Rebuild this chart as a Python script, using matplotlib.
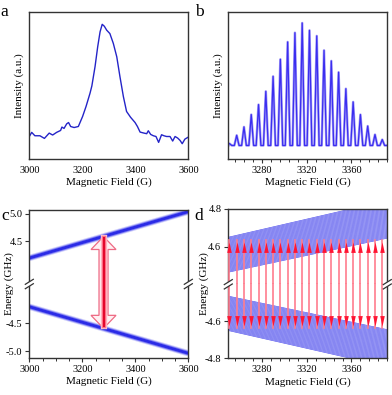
import numpy as np
import matplotlib
matplotlib.use("Agg")
import matplotlib.pyplot as plt
from matplotlib.patches import Polygon
from matplotlib.lines import Line2D
from matplotlib.path import Path
from matplotlib.ticker import MultipleLocator

plt.rcParams["font.family"] = "serif"
plt.rcParams["font.serif"] = ["Liberation Serif", "DejaVu Serif"]
plt.rcParams["axes.unicode_minus"] = False

# --- panel a: broad EPR line ---
a_field = [3000, 3009, 3021, 3040, 3057, 3075, 3088, 3103, 3118, 3123, 3131, 3141,
           3148, 3156, 3169, 3185, 3201, 3214, 3229, 3236, 3248, 3258, 3267, 3275,
           3283, 3292, 3304, 3317, 3330, 3342, 3355, 3367, 3382, 3399, 3408, 3418,
           3433, 3443, 3449, 3458, 3468, 3478, 3488, 3499, 3508, 3518, 3531, 3541,
           3550, 3560, 3569, 3577, 3587, 3600]
a_int = [0.153, 0.181, 0.158, 0.158, 0.140, 0.176, 0.163, 0.181, 0.194, 0.217, 0.208, 0.239,
         0.248, 0.221, 0.214, 0.221, 0.289, 0.357, 0.447, 0.497, 0.628, 0.763, 0.865, 0.916,
         0.903, 0.876, 0.853, 0.786, 0.695, 0.560, 0.424, 0.323, 0.284, 0.248, 0.221, 0.183,
         0.176, 0.172, 0.192, 0.167, 0.158, 0.153, 0.113, 0.165, 0.158, 0.153, 0.153, 0.122,
         0.153, 0.142, 0.126, 0.104, 0.135, 0.149]

# --- panel b: hyperfine resolved spectrum ---
b_peak_field = [3251.0, 3257.5, 3264.0, 3270.5, 3277.0, 3283.5, 3290.0, 3296.5, 3303.0,
                3309.5, 3316.0, 3322.5, 3329.0, 3335.5, 3342.0, 3348.5, 3355.0, 3361.5,
                3368.0, 3374.5, 3381.0, 3387.5]
b_peak_height = [0.105, 0.161, 0.218, 0.302, 0.370, 0.460, 0.562, 0.678, 0.796, 0.859,
                 0.925, 0.875, 0.837, 0.739, 0.667, 0.590, 0.478, 0.388, 0.302, 0.224,
                 0.166, 0.132]
b_baseline = 0.092
b_half_base = 2.1          # half width of a line at its foot (G)
b_xlim = (3250, 3392)

# --- panel c: Zeeman levels ---
c_field = [3000, 3600]
c_upper = [4.20, 5.04]
c_lower = [-4.20, -5.04]
c_arrow_field = 3280
c_arrow_energy = 4.59

# --- panel d: hyperfine manifolds and transitions ---
d_field = [3250, 3392]
d_band_left = [4.464, 4.650]     # bottom / top edge of upper manifold at left
d_band_right = [4.645, 4.845]
d_n_levels = 40
d_transitions = b_peak_field
d_arrow_energy = 4.625

spine_col = "#333333"
blue = "#2424c8"


def style(ax, labelsize=7.5):
    for s in ax.spines.values():
        s.set_linewidth(1.0)
        s.set_color(spine_col)
    ax.tick_params(direction="out", length=3, width=0.8, labelsize=labelsize,
                   color=spine_col, pad=2)
    ax.tick_params(which="minor", direction="out", length=2, width=0.7, color=spine_col)


def break_marks(fig, ax_bottom, xs):
    # small "//" marks on the spines where the axis is broken
    bb = ax_bottom.get_position()
    yj = bb.y1
    dx, dy, gap = 4 / 392, 2.5 / 395, 2.2 / 395
    for x in xs:
        fig.patches.append(Polygon([[x - dx, yj - gap - dy], [x + dx, yj - gap + dy],
                                    [x + dx, yj + gap + dy], [x - dx, yj + gap - dy]],
                                   closed=True, transform=fig.transFigure,
                                   facecolor="white", edgecolor="none", zorder=5))
        for off in (-gap, gap):
            fig.lines.append(Line2D([x - dx, x + dx], [yj + off - dy, yj + off + dy],
                                    transform=fig.transFigure, color=spine_col,
                                    lw=0.9, zorder=6))


fig = plt.figure(figsize=(3.92, 3.95), dpi=100)

# ---------------- a ----------------
ax_a = fig.add_axes([0.0748, 0.5975, 0.4056, 0.3722])
style(ax_a)
ax_a.plot(a_field, a_int, color=blue, lw=1.0)
ax_a.set_xlim(3000, 3600)
ax_a.set_ylim(0, 1)
ax_a.set_xticks([3000, 3200, 3400, 3600])
ax_a.set_yticks([])
ax_a.tick_params(axis="x", length=0, pad=5)
ax_a.set_xlabel("Magnetic Field (G)", fontsize=8, labelpad=2)
ax_a.set_ylabel("Intensity (a.u.)", fontsize=8, labelpad=4)

# ---------------- b ----------------
bx, by = [b_xlim[0]], [b_baseline]
for p, h in zip(b_peak_field, b_peak_height):
    bx += [p - b_half_base, p, p + b_half_base]
    by += [b_baseline, h, b_baseline]
bx.append(b_xlim[1])
by.append(b_baseline)

ax_b = fig.add_axes([0.5824, 0.5975, 0.4056, 0.3722])
style(ax_b)
ax_b.plot(bx, by, color="#a8a0f7", lw=1.8)
ax_b.plot(bx, by, color="#3b2ef0", lw=0.9)
ax_b.set_xlim(*b_xlim)
ax_b.set_ylim(0, 1)
ax_b.set_xticks([3280, 3320, 3360])
ax_b.xaxis.set_minor_locator(MultipleLocator(8))
ax_b.set_yticks([])
ax_b.set_xlabel("Magnetic Field (G)", fontsize=8, labelpad=2)
ax_b.set_ylabel("Intensity (a.u.)", fontsize=8, labelpad=4)

# ---------------- c ----------------
ax_ct = fig.add_axes([0.0748, 0.281, 0.4056, 0.1874])
ax_cb = fig.add_axes([0.0748, 0.0944, 0.4056, 0.1866])
for ax in (ax_ct, ax_cb):
    style(ax)
    ax.set_xlim(3000, 3600)
    for lw, col in ((4.6, "#cfcffb"), (3.3, "#7c7cf2"), (2.0, "#2b2be6")):
        ax.plot(c_field, c_upper, color=col, lw=lw, solid_capstyle="butt")
        ax.plot(c_field, c_lower, color=col, lw=lw, solid_capstyle="butt")
ax_ct.set_ylim(3.73, 5.07)
ax_cb.set_ylim(-5.12, -3.79)
ax_ct.set_yticks([4.5, 5.0])
ax_ct.set_yticklabels(["4.5", "5.0"])
ax_cb.set_yticks([-5.0, -4.5])
ax_cb.set_yticklabels(["-5.0", "-4.5"])
ax_ct.spines["bottom"].set_visible(False)
ax_cb.spines["top"].set_visible(False)
ax_ct.set_xticks([])
ax_cb.set_xticks([3000, 3200, 3400, 3600])
ax_cb.xaxis.set_minor_locator(MultipleLocator(50))
ax_cb.set_xlabel("Magnetic Field (G)", fontsize=8, labelpad=2)
fig.text(0.024, 0.281, "Energy (GHz)", rotation=90, ha="center", va="center", fontsize=8)
bb = ax_cb.get_position()
break_marks(fig, ax_cb, [bb.x0, bb.x1])

# big double arrow across the break
p_top = ax_ct.transData.transform((c_arrow_field, c_arrow_energy))
p_bot = ax_cb.transData.transform((c_arrow_field, -c_arrow_energy))
cx, y1, y0 = p_top[0], p_top[1], p_bot[1]
sw, hw, hl = 4.5, 12.5, 13.0
pts = [(cx, y1), (cx + hw, y1 - hl), (cx + sw, y1 - hl), (cx + sw, y0 + hl),
       (cx + hw, y0 + hl), (cx, y0), (cx - hw, y0 + hl), (cx - sw, y0 + hl),
       (cx - sw, y1 - hl), (cx - hw, y1 - hl)]
inv = fig.transFigure.inverted()
pts_fig = inv.transform(pts)
fig.patches.append(Polygon(pts_fig, closed=True, transform=fig.transFigure,
                           facecolor="#fff0f2", edgecolor="#ee6a84", lw=0.9, zorder=3))
core = inv.transform([(cx, y1 - 2), (cx, y0 + 2)])
for lw, col in ((4.6, "#ffc4cd"), (3.2, "#ff7a90"), (1.6, "#e4072c")):
    fig.lines.append(Line2D(core[:, 0], core[:, 1], transform=fig.transFigure,
                            color=col, lw=lw, zorder=4))

# ---------------- d ----------------
ax_dt = fig.add_axes([0.5824, 0.2803, 0.4056, 0.1906])
ax_db = fig.add_axes([0.5824, 0.0929, 0.4056, 0.1874])
frac = np.linspace(0, 1, d_n_levels)
for f in frac:
    el = d_band_left[0] + f * (d_band_left[1] - d_band_left[0])
    er = d_band_right[0] + f * (d_band_right[1] - d_band_right[0])
    ax_dt.plot(d_field, [el, er], color="#4646ec", lw=0.45)
    ax_db.plot(d_field, [-el, -er], color="#4646ec", lw=0.45)

head_up = Path([(0, 0), (0.22, -1), (-0.22, -1), (0, 0)])
head_dn = Path([(0, 0), (0.22, 1), (-0.22, 1), (0, 0)])
for x in d_transitions:
    ax_dt.plot([x, x], [4.40, d_arrow_energy + 0.01], color="#ff7d8e", lw=1.2,
               clip_on=False, zorder=3)
    ax_db.plot([x, x], [-d_arrow_energy - 0.01, -4.40], color="#ff7d8e", lw=1.2,
               clip_on=False, zorder=3)
    ax_dt.plot([x], [d_arrow_energy], marker=head_up, ms=15, color="#ff1533",
               mew=0, clip_on=False, zorder=4)
    ax_db.plot([x], [-d_arrow_energy], marker=head_dn, ms=15, color="#ff1533",
               mew=0, clip_on=False, zorder=4)

for ax in (ax_dt, ax_db):
    style(ax)
    ax.set_xlim(3250, 3392)
ax_dt.set_ylim(4.40, 4.80)
ax_db.set_ylim(-4.80, -4.40)
ax_dt.set_yticks([4.6, 4.8])
ax_dt.set_yticklabels(["4.6", "4.8"])
ax_db.set_yticks([-4.8, -4.6])
ax_db.set_yticklabels(["-4.8", "-4.6"])
ax_dt.spines["bottom"].set_visible(False)
ax_db.spines["top"].set_visible(False)
ax_dt.set_xticks([])
ax_db.set_xticks([3280, 3320, 3360])
ax_db.xaxis.set_minor_locator(MultipleLocator(8))
ax_db.set_xlabel("Magnetic Field (G)", fontsize=8, labelpad=2)
fig.text(0.521, 0.281, "Energy (GHz)", rotation=90, ha="center", va="center", fontsize=8)
bb = ax_db.get_position()
break_marks(fig, ax_db, [bb.x0, bb.x1])

# panel letters
for x, y, s in ((0.012, 0.970, "a"), (0.508, 0.970, "b"),
                (0.014, 0.452, "c"), (0.508, 0.452, "d")):
    fig.text(x, y, s, fontsize=12.5, ha="center", va="center")

fig.savefig("out.png", dpi=100)
